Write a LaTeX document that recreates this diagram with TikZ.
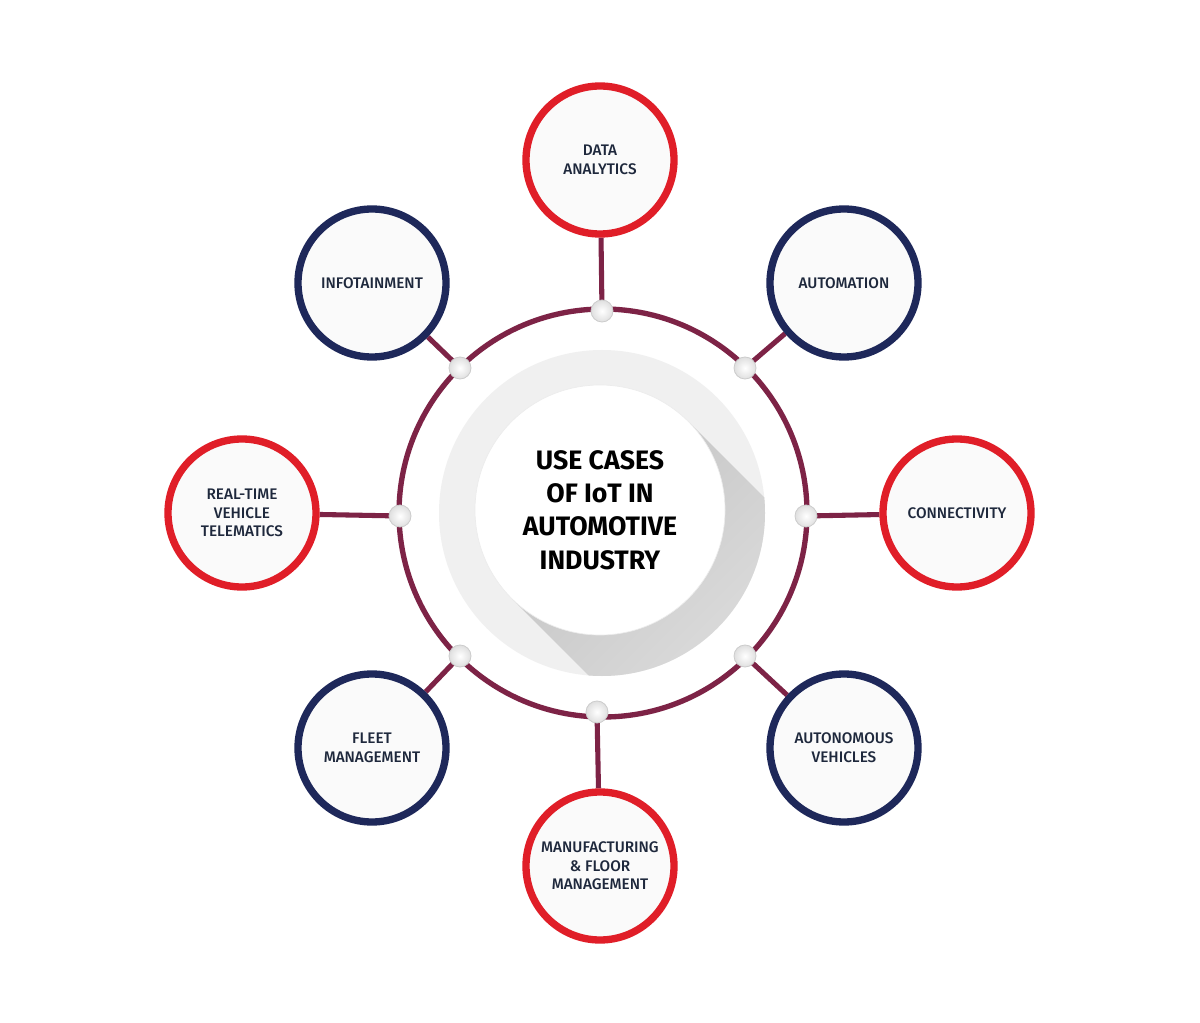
\documentclass[tikz,border=0pt]{standalone}
\usepackage{fontspec}
\setmainfont{Fira Sans Medium}
\newfontfamily\titlefont{Fira Sans Bold}
\usetikzlibrary{shadings,calc,backgrounds}
\definecolor{redc}{RGB}{224,30,40}
\definecolor{navyc}{RGB}{30,40,90}
\definecolor{ringc}{RGB}{125,35,70}
\definecolor{txtc}{RGB}{30,40,60}
\tikzset{
  x=0.75pt,y=-0.75pt,
  outer/.style={circle,minimum size=148*0.75pt,line width=5.5pt,fill=gray!4,align=center,text=txtc,font=\fontsize{11.5}{14}\selectfont,inner sep=0pt},
  redo/.style={outer,draw=redc},
  navo/.style={outer,draw=navyc},
  joint/.style={circle,minimum size=22*0.75pt,inner sep=0pt,draw=gray!40,line width=0.6pt,inner color=white,outer color=gray!25},
  conn/.style={line width=3.8pt,draw=ringc},
}
\begin{document}
\begin{tikzpicture}
\useasboundingbox (0,0) rectangle (1200,1023);
% outer nodes
\node[redo] (da) at (600,160) {DATA\\ANALYTICS};
\node[navo] (au) at (844,283) {AUTOMATION};
\node[redo] (co) at (957,513) {CONNECTIVITY};
\node[navo] (av) at (844,748) {AUTONOMOUS\\VEHICLES};
\node[redo] (mf) at (600,866) {MANUFACTURING\\\& FLOOR\\MANAGEMENT};
\node[navo] (fm) at (372,748) {FLEET\\MANAGEMENT};
\node[redo] (rt) at (242,513) {REAL-TIME\\VEHICLE\\TELEMATICS};
\node[navo] (in) at (372,283) {INFOTAINMENT};
% joints
\node[joint] (j1) at (602,311) {};
\node[joint] (j2) at (745,368) {};
\node[joint] (j3) at (806,516) {};
\node[joint] (j4) at (745,656) {};
\node[joint] (j5) at (597,712) {};
\node[joint] (j6) at (460,656) {};
\node[joint] (j7) at (400,516) {};
\node[joint] (j8) at (460,368) {};
\begin{scope}[on background layer]
\fill[white] (0,0) rectangle (1200,1023);
\draw[line width=4pt,draw=ringc] (603,513) circle[radius=204];
\draw[conn] (j1.center) -- (da);
\draw[conn] (j2.center) -- (au);
\draw[conn] (j3.center) -- (co);
\draw[conn] (j4.center) -- (av);
\draw[conn] (j5.center) -- (mf);
\draw[conn] (j6.center) -- (fm);
\draw[conn] (j7.center) -- (rt);
\draw[conn] (j8.center) -- (in);
\end{scope}
% inner disk with shadow
\fill[gray!12] (602,513) circle[radius=163];
\begin{scope}
\clip (602,513) circle[radius=163];
\shade[top color=gray!45,bottom color=gray!10,shading angle=45]
  ($(600,510)+(45:125 and -125)$) -- ++(-45:400 and -400) -- ++(-135:250 and -250) -- ($(600,510)+(-135:125 and -125)$) -- cycle;
\end{scope}
\node[circle,fill=white,minimum size=250*0.75pt,inner sep=0pt,draw=gray!15,line width=0.5pt,
  font=\titlefont\fontsize{20}{25}\selectfont,align=center,text=black] (ct) at (600,510)
  {USE CASES\\OF IoT IN\\AUTOMOTIVE\\INDUSTRY};
\end{tikzpicture}
\end{document}
